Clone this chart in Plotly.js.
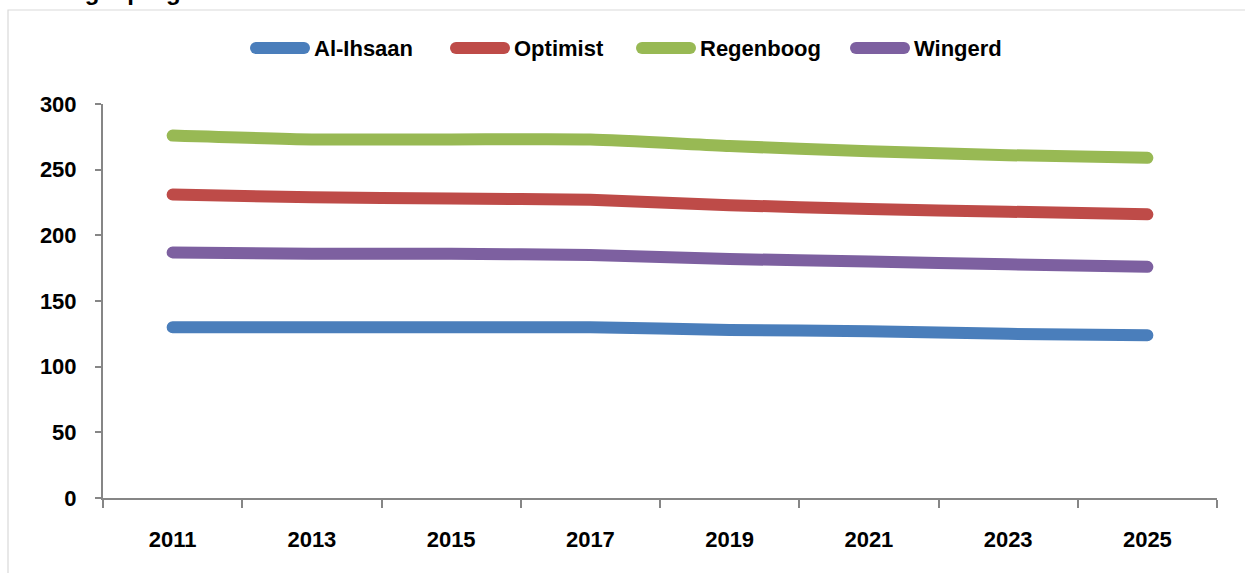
<!DOCTYPE html>
<html>
<head>
<meta charset="utf-8">
<script src="https://cdn.plot.ly/plotly-3.0.1.min.js"></script>
<style>
html,body{margin:0;padding:0;background:#fff;}
#chart{width:1245px;height:573px;}
.js-line{stroke-linecap:round;stroke-linejoin:round;}
.shapelayer path{stroke-linecap:round;}
</style>
</head>
<body>
<div id="chart"></div>
<script>
const years = ["2011","2013","2015","2017","2019","2021","2023","2025"];
const alIhsaan  = [130, 130, 130, 130, 128, 127, 125, 124];
const optimist  = [231, 229, 228, 227, 223, 220, 218, 216];
const regenboog = [276, 273, 273, 273, 268, 264, 261, 259];
const wingerd   = [187, 186, 186, 185, 182, 180, 178, 176];
const seriesNames = ["Al-Ihsaan","Optimist","Regenboog","Wingerd"];
const seriesColors = ["#4A7EBB","#BE4B48","#98B954","#7D60A0"];
const yTicks = [0, 50, 100, 150, 200, 250, 300];
const titleText = "Leerlingenprognose";

const FONT = "Liberation Sans, Arial, sans-serif";
const allSeries = [alIhsaan, optimist, regenboog, wingerd];
const traces = allSeries.map((vals, i) => ({
  type: "scatter",
  mode: "lines",
  x: years,
  y: vals,
  name: seriesNames[i],
  showlegend: false,
  line: {color: seriesColors[i], width: 12, shape: "spline", smoothing: 0.6},
  hoverinfo: "x+y+name"
}));

// plot area in pixels: left 103, right 1217, top 104, bottom 498
const L = 103, R = 1217, T = 104, B = 498;
const px2x = p => (p - L) / (R - L);
const px2y = p => (B - p) / (B - T);

// legend entry left edges (pixels)
const legendStart = [250, 450, 636, 850];
const legendY = 48;

const shapes = [{
  type: "rect", xref: "paper", yref: "paper",
  x0: px2x(8), x1: px2x(1260), y0: px2y(600), y1: px2y(10),
  line: {color: "#D9D9D9", width: 1.2},
  fillcolor: "rgba(0,0,0,0)",
  layer: "below"
}];
const annotations = [{
  text: titleText,
  xref: "paper", yref: "paper",
  x: px2x(4), xanchor: "left",
  y: px2y(7), yanchor: "bottom",
  showarrow: false,
  font: {family: FONT, size: 24, color: "#000000", weight: "bold"}
}];
seriesNames.forEach((nm, i) => {
  const s = legendStart[i];
  shapes.push({
    type: "line", xref: "paper", yref: "paper",
    x0: px2x(s + 6), x1: px2x(s + 54), y0: px2y(legendY), y1: px2y(legendY),
    line: {color: seriesColors[i], width: 12}
  });
  annotations.push({
    text: nm, xref: "paper", yref: "paper",
    x: px2x(s + 62), xanchor: "left",
    y: px2y(legendY), yanchor: "middle",
    showarrow: false,
    font: {family: FONT, size: 22, color: "#000000", weight: "bold"}
  });
});

const layout = {
  width: 1245, height: 573,
  margin: {l: L, r: 1245 - R, t: T, b: 573 - B, pad: 0},
  paper_bgcolor: "#ffffff",
  plot_bgcolor: "#ffffff",
  font: {family: FONT, color: "#000000", size: 22},
  showlegend: false,
  xaxis: {
    type: "category",
    range: [-0.5, years.length - 0.5],
    tickson: "boundaries",
    ticks: "outside",
    ticklen: 8,
    tickwidth: 1.5,
    tickcolor: "#868686",
    showline: true,
    linecolor: "#868686",
    linewidth: 2,
    showgrid: false,
    zeroline: false,
    ticklabelstandoff: 21,
    tickfont: {family: FONT, size: 22, color: "#000000", weight: "bold"},
    fixedrange: true
  },
  yaxis: {
    range: [0, 300],
    tickmode: "array",
    tickvals: yTicks,
    ticktext: yTicks.map(String),
    ticks: "outside",
    ticklen: 6,
    tickwidth: 1.5,
    tickcolor: "#868686",
    showline: true,
    linecolor: "#868686",
    linewidth: 2,
    showgrid: false,
    zeroline: false,
    ticklabelstandoff: 14,
    tickfont: {family: FONT, size: 22, color: "#000000", weight: "bold"},
    fixedrange: true
  },
  shapes: shapes,
  annotations: annotations
};

Plotly.newPlot("chart", traces, layout, {displayModeBar: false});
</script>
</body>
</html>
